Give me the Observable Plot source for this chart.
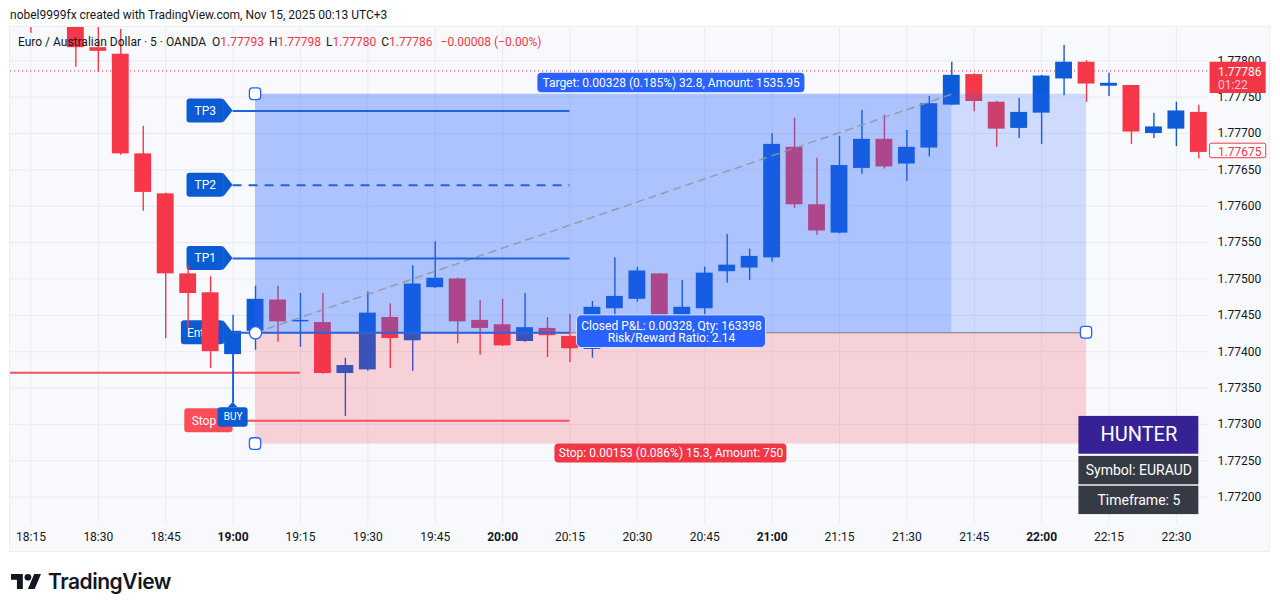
<!DOCTYPE html>
<html><head><meta charset="utf-8">
<script src="https://cdn.jsdelivr.net/npm/d3@7"></script>
<script src="https://cdn.jsdelivr.net/npm/@observablehq/plot@0.6"></script>
<style>
html,body{margin:0;padding:0;background:#fff;width:1280px;height:612px;overflow:hidden;font-family:Roboto,sans-serif;color:#131722}
#top{position:absolute;left:10px;top:7px;font-size:12px;line-height:16px;white-space:nowrap}
#chart{position:absolute;left:9px;top:26px;width:1261px;height:526px}
#chart svg{display:block;background:#f8f9fd;outline:1px solid #eceef2;outline-offset:-1px}
#legend{position:absolute;left:18px;top:34px;font-size:12px;line-height:16px;white-space:pre}
#legend b{font-weight:400;color:#f23645}
#legend i{font-style:normal;margin-left:2px}
#foot{position:absolute;left:11px;top:569px;display:flex;align-items:center}
#foot span{font:600 21px Inter,Roboto,sans-serif;margin-left:7px;letter-spacing:-.45px;color:#131722}
</style></head><body>
<div id="top">nobel9999fx created with TradingView.com, Nov 15, 2025 00:13 UTC+3</div>
<div id="chart"></div>
<div id="legend">Euro / Australian Dollar · 5 · OANDA  O<b>1.77793</b> <i>H</i><b>1.77798</b> <i>L</i><b>1.77780</b> <i>C</i><b>1.77786</b>  <i><b>−0.00008 (−0.00%)</b></i></div>
<div id="foot"><svg width="30" height="15" viewBox="0 4 35.5 18" preserveAspectRatio="none"><path fill="#131722" d="M14 22H7V11H0V4h14v18zM28 22h-8l7.5-18h8L28 22z"/><circle fill="#131722" cx="20" cy="8" r="4"/></svg><span>TradingView</span></div>
<script>
const open  = [1.77869,1.77880,1.77855,1.77818,1.77809,1.77672,1.77617,1.77507,1.77481,1.77396,1.77428,1.77471,1.77441,1.77440,1.77370,1.77375,1.77447,1.77415,1.77488,1.77500,1.77443,1.77437,1.77414,1.77432,1.77421,1.77403,1.77459,1.77472,1.77507,1.77448,1.77459,1.77510,1.77515,1.77529,1.77681,1.77602,1.77563,1.77652,1.77692,1.77658,1.77680,1.77739,1.77781,1.77743,1.77707,1.77728,1.77775,1.77798,1.77765,1.77766,1.77700,1.77706,1.77729];
const high  = [1.77880,1.77885,1.77865,1.77850,1.77843,1.77710,1.77618,1.77518,1.77503,1.77450,1.77490,1.77490,1.77480,1.77480,1.77391,1.77482,1.77466,1.77518,1.77551,1.77501,1.77470,1.77472,1.77480,1.77447,1.77451,1.77469,1.77529,1.77516,1.77507,1.77498,1.77516,1.77561,1.77541,1.77700,1.77721,1.77666,1.77696,1.77732,1.77725,1.77704,1.77751,1.77798,1.77782,1.77744,1.77748,1.77780,1.77821,1.77800,1.77783,1.77766,1.77728,1.77743,1.77739];
const low   = [1.77838,1.77850,1.77791,1.77784,1.77670,1.77593,1.77418,1.77432,1.77377,1.77329,1.77402,1.77413,1.77406,1.77369,1.77311,1.77373,1.77377,1.77373,1.77487,1.77411,1.77395,1.77407,1.77413,1.77392,1.77385,1.77391,1.77443,1.77468,1.77446,1.77429,1.77450,1.77494,1.77498,1.77523,1.77597,1.77560,1.77562,1.77644,1.77651,1.77634,1.77668,1.77739,1.77730,1.77681,1.77693,1.77685,1.77752,1.77743,1.77751,1.77685,1.77693,1.77682,1.77665];
const close = [1.77855,1.77855,1.77818,1.77813,1.77672,1.77619,1.77507,1.77480,1.77400,1.77428,1.77472,1.77441,1.77443,1.77370,1.77381,1.77453,1.77418,1.77493,1.77501,1.77441,1.77432,1.77408,1.77433,1.77422,1.77404,1.77461,1.77476,1.77511,1.77448,1.77461,1.77508,1.77519,1.77531,1.77685,1.77602,1.77566,1.77656,1.77692,1.77654,1.77681,1.77741,1.77780,1.77744,1.77706,1.77729,1.77779,1.77798,1.77768,1.77769,1.77702,1.77709,1.77731,1.77674];
const timeLabels = ["18:15","18:30","18:45","19:00","19:15","19:30","19:45","20:00","20:15","20:30","20:45","21:00","21:15","21:30","21:45","22:00","22:15","22:30"];
const hourLabels = ["19:00","20:00","21:00","22:00"];
const priceTicks = [1.778,1.7775,1.777,1.7765,1.776,1.7755,1.775,1.7745,1.774,1.7735,1.773,1.7725,1.772];
const entry=1.77426, target=1.77754, stop=1.77273, tp1=1.77528, tp2=1.77629, tp3=1.77731, stopLine=1.77305, level=1.77371, last=1.77786, prev=1.77675;
const iEntry=9, iStart=10, iFill=41, iEnd=47, iLines=24, iLevel=12;

const BLUE="#0d5bd6", RED="#f63749", TB="#2962ff", TR="#f23645";
const xMin=-0.91, xMax=52.43;
const candles = open.map((o,i)=>({i,o,h:high[i],l:low[i],c:close[i],col:close[i]>=o?BLUE:RED}));
const timeTicks = timeLabels.map((_,k)=>k*3);
const hourTicks = timeTicks.filter(k=>hourLabels.includes(timeLabels[k/3]));
const minorTicks = timeTicks.filter(k=>!hourTicks.includes(k));
const fmtT = k=>timeLabels[k/3];
const font="Roboto, sans-serif";

const box=(x1,x2,y1,y2,fill,extra={})=>Plot.rect([0],{x1:()=>x1,x2:()=>x2,y1:()=>y1,y2:()=>y2,fill,...extra});
const txt=(x,y,s,fill,fontSize=12,extra={})=>Plot.text([s],{x:()=>x,y:()=>y,text:d=>d,fill,fontSize,fontFamily:font,...extra});
const hline=(x1,x2,y,stroke,extra={})=>Plot.ruleY([y],{x1:()=>x1,x2:()=>x2,y:d=>d,stroke,strokeWidth:2,...extra});
const poly=(xs,y1s,y2s,fill)=>Plot.areaY(xs.map((x,k)=>({x,a:y1s[k],b:y2s[k]})),{x:"x",y1:"a",y2:"b",fill,curve:"linear"});
const pill=(price,label,x1=6.95,tx=7.76)=>[
  box(x1,8.6,price-0.000165,price+0.000165,"#0b5bd3",{rx:3}),
  poly([8.58,9],[price-0.000165,price],[price+0.000165,price],"#0b5bd3"),
  txt(tx,price,label,"#fff")
];
const handle=(i,p)=>box(i-0.25,i+0.25,p-0.00008,p+0.00008,"#fff",{stroke:TB,strokeWidth:1.3,rx:3});

const chart = Plot.plot({
  width:1261,height:526,marginLeft:1,marginRight:62,marginTop:1,marginBottom:29,
  style:{fontFamily:font,fontSize:"12px",color:"#131722",background:"#f8f9fd"},
  x:{type:"linear",domain:[xMin,xMax],axis:null},
  y:{type:"linear",domain:[1.7716375,1.7784575],axis:null},
  marks:[
    Plot.gridX(timeTicks,{stroke:"#e9ebf0",strokeOpacity:1}),
    Plot.gridY(priceTicks,{stroke:"#e9ebf0",strokeOpacity:1}),
    Plot.axisY({anchor:"right",ticks:priceTicks,tickFormat:d3.format(".5f"),tickSize:0,tickPadding:9,label:null,fill:"#131722",fontSize:12}),
    Plot.axisX({ticks:minorTicks,tickFormat:fmtT,tickSize:0,tickPadding:9,label:null,fill:"#131722",fontSize:12}),
    Plot.axisX({ticks:hourTicks,tickFormat:fmtT,tickSize:0,tickPadding:9,label:null,fill:"#131722",fontSize:12,fontWeight:700}),
    hline(xMin,iLevel,level,"#f6515c",{strokeWidth:2}),
    ...pill(tp3,"TP3"),...pill(tp2,"TP2"),...pill(tp1,"TP1"),...pill(entry,"Entry",6.7,7.55),
    box(6.85,9,stopLine-0.000165,stopLine+0.000165,"#fb4d56",{rx:3}),
    txt(7.7,stopLine,"Stop","#fff"),
    Plot.ruleY([last],{stroke:TR,strokeWidth:1,strokeDasharray:"1 3",x1:()=>xMin,x2:()=>xMax}),
    Plot.ruleX(candles,{x:"i",y1:"l",y2:"h",stroke:"col",strokeWidth:1.4,clip:true}),
    Plot.rect(candles,{x1:d=>d.i-0.375,x2:d=>d.i+0.375,y1:d=>Math.min(d.o,d.c),y2:d=>Math.max(d.o,d.c),fill:"col",clip:true}),
    box(iStart,iEnd,entry,target,TB,{fillOpacity:0.2}),
    box(iStart,iFill,entry,target,TB,{fillOpacity:0.2}),
    box(iStart,iEnd,stop,entry,TR,{fillOpacity:0.2}),
    Plot.line([[iStart,entry],[iFill,target]],{stroke:"#8f949e",strokeOpacity:0.85,strokeWidth:1.5,strokeDasharray:"7 6"}),
    hline(iStart,iEnd,entry,"#787b86",{strokeWidth:1}),
    hline(iEntry,iLines,tp3,"#1e63e0"),
    hline(iEntry,iLines,tp2,"#1e63e0",{strokeDasharray:"9 7"}),
    hline(iEntry,iLines,tp1,"#1e63e0"),
    hline(iEntry,iLines,entry,"#2a62d8"),
    hline(iEntry,iLines,stopLine,"#f6515c"),
    Plot.ruleX([iEntry],{y1:()=>1.77330,y2:()=>1.77396,stroke:BLUE,strokeWidth:1.4}),
    box(8.33,9.67,1.77296,1.77323,"#0b5bd3",{rx:3}),
    poly([8.78,9,9.22],[1.77323,1.77323,1.77323],[1.77323,1.7733,1.77323],"#0b5bd3"),
    txt(9,1.7731,"BUY","#fff",10),
    handle(iStart,target),handle(iStart,stop),handle(iEnd,entry),
    Plot.dot([[iStart,entry]],{x:"0",y:"1",r:6.2,fill:"#fff",stroke:TB,strokeWidth:1.4}),
    box(22.57,34.46,1.77756,1.77783,"#2962ff",{rx:4}),
    txt(28.5,1.77769,"Target: 0.00328 (0.185%) 32.8, Amount: 1535.95","#fff"),
    box(24.31,32.73,1.77405,1.7745,"#2962ff",{rx:5,stroke:"#dfe7ff",strokeWidth:1}),
    txt(28.52,1.77427,"Closed P&L: 0.00328, Qty: 163398\nRisk/Reward Ratio: 2.14","#fff",12,{lineHeight:1}),
    box(23.33,33.66,1.77247,1.77273,"#f23645",{rx:4}),
    txt(28.5,1.7726,"Stop: 0.00153 (0.086%) 15.3, Amount: 750","#fff"),
    box(46.66,52,1.77259,1.77311,"#311b92",{fillOpacity:0.97}),
    txt(49.33,1.77286,"HUNTER","#fff",20),
    box(46.66,52,1.77217,1.77256,"#363a45"),
    txt(49.33,1.77237,"Symbol: EURAUD","#fff",14),
    box(46.66,52,1.77176,1.77215,"#363a45"),
    txt(49.33,1.77196,"Timeframe: 5","#fff",14),
    box(52.5,55,1.77755,1.77798,TR),
    txt(52.85,1.77785,"1.77786","#fff",12,{textAnchor:"start"}),
    txt(52.85,1.77766,"01:22","#fbc5ca",12,{textAnchor:"start"}),
    box(52.5,55,1.77666,1.77686,"#fff",{stroke:TR,strokeWidth:1,rx:2}),
    txt(52.85,1.77675,"1.77675",TR,12,{textAnchor:"start"})
  ]
});
document.getElementById("chart").append(chart);
</script>
</body></html>
